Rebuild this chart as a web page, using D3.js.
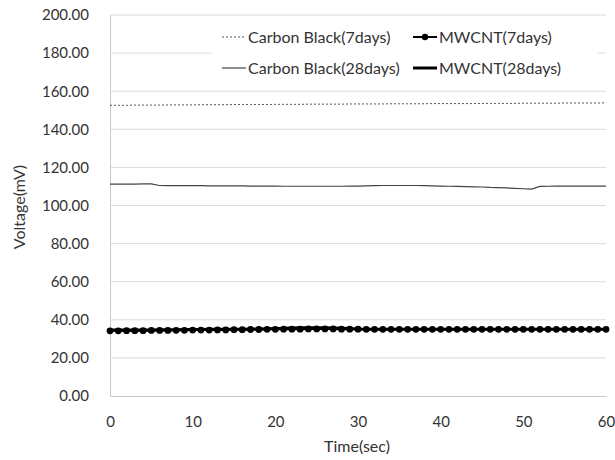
<!DOCTYPE html>
<html>
<head>
<meta charset="utf-8">
<script src="https://cdn.jsdelivr.net/npm/d3@7"></script>
<style>
  body { margin: 0; background: #fff; }
  text { font-family: Lato, "Open Sans", sans-serif; fill: #333; }
</style>
</head>
<body>
<div id="chart-area"></div>
<script>
// Datos
var timeSec = [0,1,2,3,4,5,6,7,8,9,10,11,12,13,14,15,16,17,18,19,20,21,22,23,24,25,26,27,28,29,30,
               31,32,33,34,35,36,37,38,39,40,41,42,43,44,45,46,47,48,49,50,51,52,53,54,55,56,57,58,59,60];

var carbon7 = [152.6,152.6,152.6,152.7,152.7,152.7,152.7,152.8,152.8,152.8,152.8,152.9,152.9,152.9,152.9,153.0,
               153.0,153.0,153.0,153.0,153.1,153.1,153.1,153.1,153.2,153.2,153.2,153.2,153.2,153.3,153.3,
               153.3,153.3,153.3,153.4,153.4,153.4,153.4,153.4,153.5,153.5,153.5,153.5,153.5,153.5,153.6,
               153.6,153.6,153.6,153.6,153.7,153.7,153.7,153.7,153.7,153.8,153.8,153.8,153.8,153.8,153.9];

var carbon28 = [111.2,111.2,111.2,111.2,111.3,111.3,110.5,110.4,110.4,110.4,110.4,110.4,110.3,110.3,110.3,110.3,
                110.3,110.2,110.2,110.2,110.2,110.1,110.1,110.1,110.1,110.1,110.1,110.1,110.1,110.2,110.2,
                110.3,110.4,110.5,110.5,110.5,110.5,110.5,110.4,110.3,110.2,110.1,110.0,109.9,109.8,109.7,
                109.5,109.4,109.2,109.0,108.8,108.6,110.0,110.1,110.2,110.2,110.2,110.2,110.2,110.2,110.2];

var mwcnt7 = [34.2,34.2,34.3,34.3,34.3,34.4,34.4,34.4,34.5,34.5,34.6,34.6,34.6,34.7,34.7,34.8,
              34.8,34.9,34.9,35.0,35.0,35.1,35.1,35.1,35.2,35.2,35.2,35.2,35.1,35.1,35.1,
              35.0,35.0,35.0,35.0,35.0,35.0,35.0,35.0,35.0,35.0,35.0,35.0,35.0,35.0,35.0,
              35.0,35.0,35.0,35.0,35.0,35.0,35.0,35.0,35.0,35.0,35.0,35.0,35.0,35.0,35.0];

var mwcnt28 = [34.6,34.6,34.6,34.7,34.7,34.7,34.8,34.8,34.8,34.9,34.9,34.9,35.0,35.0,35.0,35.1,
               35.1,35.2,35.2,35.3,35.4,35.5,35.7,35.8,35.8,35.8,35.8,35.7,35.6,35.4,35.2,
               35.1,35.1,35.1,35.1,35.1,35.1,35.1,35.1,35.1,35.1,35.1,35.1,35.1,35.1,35.1,
               35.1,35.1,35.1,35.1,35.1,35.1,35.1,35.1,35.1,35.1,35.1,35.1,35.1,35.1,35.1];

var yTicks = [0,20,40,60,80,100,120,140,160,180,200];
var xTicks = [0,10,20,30,40,50,60];

var seriesNames = ["Carbon Black(7days)", "MWCNT(7days)", "Carbon Black(28days)", "MWCNT(28days)"];

var width = 615, height = 460;
var margin = {top: 15, right: 9, bottom: 64, left: 110};

var svg = d3.select("#chart-area").append("svg")
    .attr("width", width)
    .attr("height", height);

var x = d3.scaleLinear().domain([0, 60]).range([margin.left, width - margin.right]);
var y = d3.scaleLinear().domain([0, 200]).range([height - margin.bottom, margin.top]);

// Lineas de la cuadricula
svg.append("g")
  .selectAll("line")
  .data(yTicks.slice(1))
  .enter().append("line")
    .attr("x1", x(0)).attr("x2", x(60))
    .attr("y1", d => y(d)).attr("y2", d => y(d))
    .attr("stroke", "#dcdcdc")
    .attr("stroke-width", 1);

// Eje Y
var yAxis = svg.append("g")
    .attr("transform", "translate(" + margin.left + ",0)")
    .call(d3.axisLeft(y).tickValues(yTicks).tickFormat(d3.format(".2f")).tickSize(0).tickPadding(21));
yAxis.select(".domain").attr("stroke", "#c8c8c8");
yAxis.selectAll("text").style("font-size", "15px").attr("fill", "#333");

// Eje X
var xAxis = svg.append("g")
    .attr("transform", "translate(0," + y(0) + ")")
    .call(d3.axisBottom(x).tickValues(xTicks).tickSize(0).tickPadding(20));
xAxis.select(".domain").attr("stroke", "#c8c8c8");
xAxis.selectAll("text").style("font-size", "15px").attr("fill", "#333");

// Titulos de los ejes
svg.append("text")
    .attr("x", 357).attr("y", 452)
    .attr("text-anchor", "middle")
    .style("font-size", "16px")
    .text("Time(sec)");

svg.append("text")
    .attr("transform", "translate(25,207) rotate(-90)")
    .attr("text-anchor", "middle")
    .style("font-size", "16px")
    .text("Voltage(mV)");

var line = d3.line()
    .x((d, i) => x(timeSec[i]))
    .y(d => y(d));

// Carbon Black 7 dias (punteada)
svg.append("path")
    .datum(carbon7)
    .attr("d", line)
    .attr("fill", "none")
    .attr("stroke", "#555")
    .attr("stroke-width", 1)
    .attr("stroke-dasharray", "2,2");

// Carbon Black 28 dias
svg.append("path")
    .datum(carbon28)
    .attr("d", line)
    .attr("fill", "none")
    .attr("stroke", "#444")
    .attr("stroke-width", 1.2);

// MWCNT 28 dias
svg.append("path")
    .datum(mwcnt28)
    .attr("d", line)
    .attr("fill", "none")
    .attr("stroke", "#000")
    .attr("stroke-width", 3);

// MWCNT 7 dias con marcadores
svg.append("path")
    .datum(mwcnt7)
    .attr("d", line)
    .attr("fill", "none")
    .attr("stroke", "#000")
    .attr("stroke-width", 2);

svg.append("g")
  .selectAll("circle")
  .data(mwcnt7)
  .enter().append("circle")
    .attr("cx", (d, i) => x(timeSec[i]))
    .attr("cy", d => y(d))
    .attr("r", 3.4)
    .attr("fill", "#000");

// Leyenda
var legend = svg.append("g");
legend.append("rect")
    .attr("x", 212).attr("y", 22)
    .attr("width", 386).attr("height", 62)
    .attr("fill", "#fff");

var legendPos = [
    {lx: 222, ty: 37},
    {lx: 413, ty: 37},
    {lx: 222, ty: 68},
    {lx: 413, ty: 68}
];

seriesNames.forEach(function(name, i) {
    var p = legendPos[i];
    var g = legend.append("g");
    var sample = g.append("line")
        .attr("x1", p.lx).attr("x2", p.lx + 24)
        .attr("y1", p.ty).attr("y2", p.ty);
    if (i === 0) {
        sample.attr("stroke", "#555").attr("stroke-width", 1).attr("stroke-dasharray", "2,2");
    } else if (i === 2) {
        sample.attr("stroke", "#444").attr("stroke-width", 1.2);
    } else if (i === 1) {
        sample.attr("stroke", "#000").attr("stroke-width", 2);
        g.append("circle").attr("cx", p.lx + 12).attr("cy", p.ty).attr("r", 3.2).attr("fill", "#000");
    } else {
        sample.attr("stroke", "#000").attr("stroke-width", 3);
    }
    g.append("text")
        .attr("x", p.lx + 26).attr("y", p.ty)
        .attr("dy", "0.35em")
        .style("font-size", "16px")
        .text(name);
});
</script>
</body>
</html>
